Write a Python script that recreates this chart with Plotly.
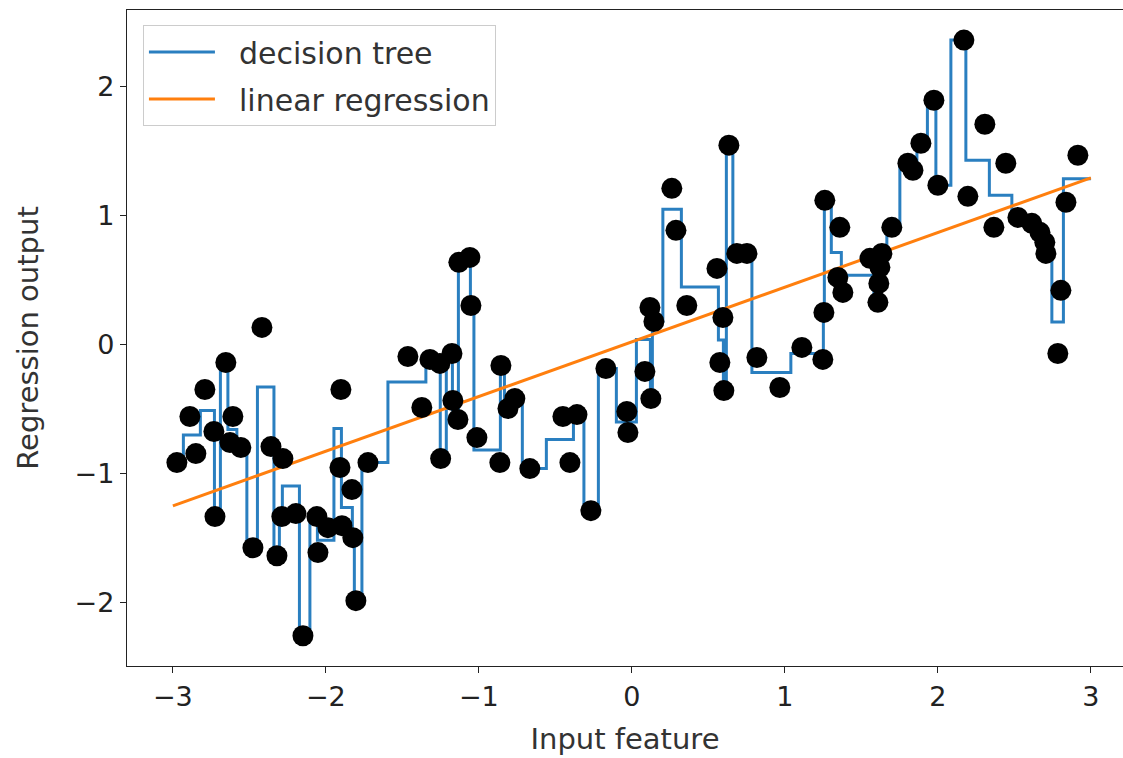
import numpy as np
import plotly.graph_objects as go

# ---- data ----
x_points = [-2.974, -2.889, -2.850, -2.791, -2.732, -2.725, -2.654, -2.627, -2.608, -2.556,
            -2.477, -2.418, -2.359, -2.320, -2.288, -2.281, -2.196, -2.150, -2.059, -2.052,
            -1.987, -1.908, -1.902, -1.895, -1.830, -1.824, -1.804, -1.725, -1.464, -1.373,
            -1.320, -1.255, -1.250, -1.176, -1.170, -1.137, -1.131, -1.059, -1.052, -1.013,
            -0.863, -0.856, -0.810, -0.765, -0.667, -0.451, -0.405, -0.359, -0.268, -0.170,
            -0.033, -0.026, 0.085, 0.118, 0.124, 0.144, 0.261, 0.288, 0.359, 0.556,
            0.575, 0.595, 0.601, 0.634, 0.686, 0.752, 0.817, 0.967, 1.111, 1.248,
            1.255, 1.261, 1.346, 1.359, 1.379, 1.556, 1.608, 1.614, 1.621, 1.634,
            1.699, 1.804, 1.837, 1.889, 1.974, 2.000, 2.170, 2.196, 2.307, 2.366,
            2.444, 2.523, 2.614, 2.667, 2.699, 2.706, 2.784, 2.804, 2.837, 2.915]
y_points = [-0.915, -0.558, -0.845, -0.349, -0.674, -1.333, -0.140, -0.760, -0.558, -0.798,
            -1.574, 0.132, -0.791, -1.636, -1.333, -0.884, -1.310, -2.256, -1.333, -1.612,
            -1.419, -0.953, -0.349, -1.403, -1.124, -1.496, -1.984, -0.915, -0.093, -0.488,
            -0.116, -0.147, -0.884, -0.070, -0.434, -0.581, 0.636, 0.674, 0.302, -0.721,
            -0.915, -0.163, -0.496, -0.419, -0.961, -0.558, -0.915, -0.543, -1.287, -0.186,
            -0.519, -0.682, -0.209, 0.287, -0.419, 0.178, 1.209, 0.884, 0.302, 0.589,
            -0.140, 0.209, -0.357, 1.543, 0.705, 0.705, -0.101, -0.333, -0.023, -0.116,
            0.248, 1.116, 0.519, 0.907, 0.403, 0.667, 0.326, 0.473, 0.597, 0.705,
            0.907, 1.403, 1.349, 1.558, 1.891, 1.233, 2.357, 1.147, 1.705, 0.907,
            1.403, 0.984, 0.938, 0.868, 0.791, 0.705, -0.070, 0.419, 1.101, 1.465]

line_range = [-3.0, 3.0]            # prediction range of both models
linreg_y = [-1.25, 1.29]            # linear regression at x = -3 and x = 3

x_ticks = [-3, -2, -1, 0, 1, 2, 3]
y_ticks = [-2, -1, 0, 1, 2]
series_names = ["decision tree", "linear regression"]

# ---- decision tree regressor (min_samples_split=3) fitted on the points ----
X = np.array(x_points)
Y = np.array(y_points)


def fit_tree(idx, lo, hi, leaves):
    idx = idx[np.argsort(X[idx])]
    if len(idx) < 3:
        leaves.append((lo, hi, Y[idx].mean()))
        return
    xs, ys = X[idx], Y[idx]
    best, best_k = None, None
    for k in range(1, len(idx)):
        if xs[k] == xs[k - 1]:
            continue
        l, r = ys[:k], ys[k:]
        sse = ((l - l.mean()) ** 2).sum() + ((r - r.mean()) ** 2).sum()
        if best is None or sse < best - 1e-12:
            best, best_k = sse, k
    if best_k is None:
        leaves.append((lo, hi, ys.mean()))
        return
    thr = (xs[best_k - 1] + xs[best_k]) / 2
    fit_tree(idx[:best_k], lo, thr, leaves)
    fit_tree(idx[best_k:], thr, hi, leaves)


leaves = []
fit_tree(np.arange(len(X)), -np.inf, np.inf, leaves)
leaves.sort(key=lambda t: t[0])
tree_x, tree_y = [], []
for lo, hi, v in leaves:
    if hi <= line_range[0] or lo >= line_range[1]:
        continue
    tree_x.append(max(lo, line_range[0]))
    tree_y.append(v)
tree_x.append(line_range[1])
tree_y.append(tree_y[-1])

# ---- figure ----
FONT = "DejaVu Sans"
PAD = "\u00a0\u00a0"
fig = go.Figure()
fig.add_trace(go.Scatter(x=tree_x, y=tree_y, mode="lines", line_shape="hv",
                         line=dict(color="#2a7fc0", width=3),
                         name=PAD + series_names[0], legendgroup="a"))
fig.add_trace(go.Scatter(x=line_range, y=linreg_y, mode="lines",
                         line=dict(color="#ff7f0e", width=3),
                         name=PAD + series_names[1], legendgroup="b"))
fig.add_trace(go.Scatter(x=x_points, y=y_points, mode="markers",
                         marker=dict(color="black", size=21, line=dict(width=0)),
                         showlegend=False))

axis_common = dict(showline=True, linecolor="#222", linewidth=1.4, ticks="outside",
                   ticklen=6, tickwidth=1.4, tickcolor="#222", showgrid=False,
                   zeroline=False, tickfont=dict(family=FONT, size=27, color="#222"))

fig.update_layout(
    width=1123, height=758,
    margin=dict(l=127, r=0, t=10, b=92),
    paper_bgcolor="white", plot_bgcolor="white",
    font=dict(family=FONT, size=27, color="#222"),
    xaxis=dict(range=[-3.3, 3.21], tickvals=x_ticks, mirror=True,
               title=dict(text="Input feature", font=dict(family=FONT, size=29, color="#333"),
                          standoff=18),
               **axis_common),
    yaxis=dict(range=[-2.49, 2.59], tickvals=y_ticks,
               title=dict(text="Regression output", font=dict(family=FONT, size=29, color="#333"),
                          standoff=27),
               **axis_common),
    legend=dict(x=0.016, y=0.977, xanchor="left", yanchor="top",
                bgcolor="rgba(255,255,255,0.85)", bordercolor="#cccccc", borderwidth=1,
                font=dict(family=FONT, size=30, color="#333"), tracegroupgap=5,
                itemwidth=66),
)

fig.write_html("out.html")
